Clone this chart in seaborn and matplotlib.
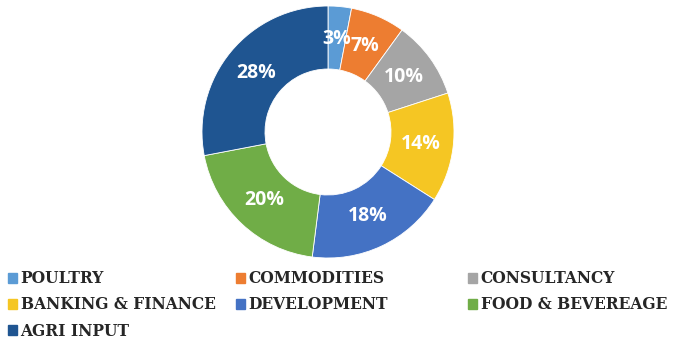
import matplotlib
matplotlib.use("Agg")
import matplotlib.pyplot as plt
import matplotlib.patches as mpatches
import seaborn as sns

categories = ["POULTRY", "COMMODITIES", "CONSULTANCY", "BANKING & FINANCE",
              "DEVELOPMENT", "FOOD & BEVEREAGE", "AGRI INPUT"]
shares = [3, 7, 10, 14, 18, 20, 28]
colors = ["#5B9BD5", "#ED7D31", "#A5A5A5", "#F5C623", "#4472C4", "#70AD47", "#1F5591"]

sns.set_theme(style="white")
plt.rcParams['font.family'] = ['DejaVu Sans']

W, H = 675, 345
fig = plt.figure(figsize=(W / 100, H / 100), dpi=100)
cx, cy, r = 328, 132, 126
ax = fig.add_axes([(cx - r) / W, (H - cy - r) / H, 2 * r / W, 2 * r / H])
wedges, texts, autotexts = ax.pie(
    shares, colors=colors, startangle=90, counterclock=False,
    autopct=lambda p: f"{p:.0f}%", pctdistance=0.74,
    wedgeprops=dict(width=0.5, edgecolor="white", linewidth=0.6),
    textprops=dict(color="white", fontsize=14, fontweight="bold", family="Open Sans"))
ax.set_xlim(-1, 1)
ax.set_ylim(-1, 1)
ax.set_aspect("equal")
ax.axis("off")

handles = [mpatches.Patch(color=c, label=l) for c, l in zip(colors, categories)]
cols = [[0, 3, 6], [1, 4], [2, 5]]
xs = [5, 233, 465]
for xpos, idx in zip(xs, cols):
    leg = fig.legend([handles[i] for i in idx], [categories[i] for i in idx],
                     loc="upper left", bbox_to_anchor=(xpos / W, 1 - 267 / H),
                     frameon=False, handlelength=0.6, handleheight=0.6,
                     handletextpad=0.2, labelspacing=0.6, borderaxespad=0,
                     borderpad=0.2,
                     prop=dict(family="DejaVu Serif", weight="bold", size=11.2))
    for t in leg.get_texts():
        t.set_color("#262626")

fig.savefig("out.png", dpi=100)
